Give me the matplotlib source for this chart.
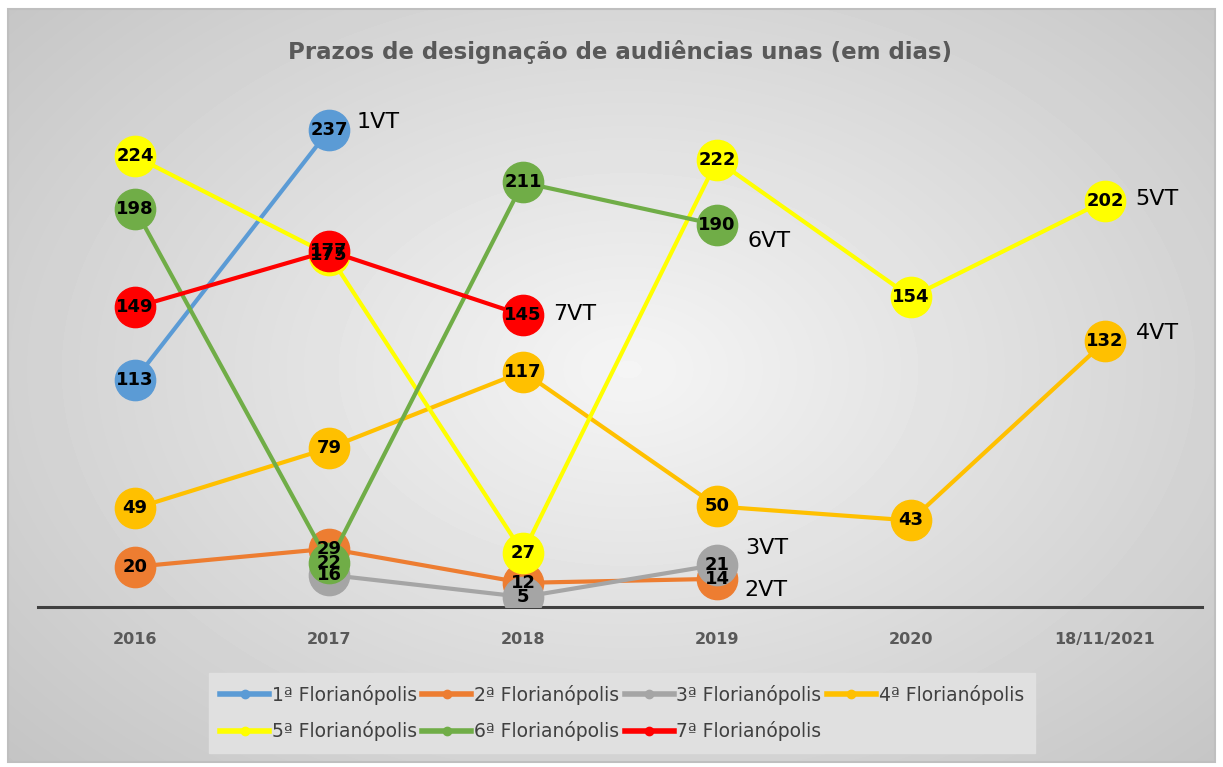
import numpy as np
import matplotlib.pyplot as plt
from matplotlib.patches import Rectangle
from matplotlib.lines import Line2D

nan = np.nan

# categories and series (days)
anos = ['2016', '2017', '2018', '2019', '2020', '18/11/2021']
series = ['1ª Florianópolis', '2ª Florianópolis', '3ª Florianópolis', '4ª Florianópolis',
          '5ª Florianópolis', '6ª Florianópolis', '7ª Florianópolis']
vt_1 = [113, 237, nan, nan, nan, nan]
vt_2 = [20, 29, 12, 14, nan, nan]
vt_3 = [nan, 16, 5, 21, nan, nan]
vt_4 = [49, 79, 117, 50, 43, 132]
vt_5 = [224, 175, 27, 222, 154, 202]
vt_6 = [198, 22, 211, 190, nan, nan]
vt_7 = [149, 177, 145, nan, nan, nan]
nomes_fim = ['1VT', '2VT', '3VT', '4VT', '5VT', '6VT', '7VT']

valores = [vt_1, vt_2, vt_3, vt_4, vt_5, vt_6, vt_7]
cores = ['#5B9BD5', '#ED7D31', '#A5A5A5', '#FFC000', '#FFFF00', '#70AD47', '#FF0000']
# offsets (points) for the end labels "xVT"
offs = [(20, 6), (20, -8), (20, 12), (22, 6), (22, 1), (22, -12), (22, 1)]

fig = plt.figure(figsize=(12.23, 7.67), dpi=100)

# background: radial-ish gradient inside a thin gray frame
bg = fig.add_axes([0, 0, 1, 1], zorder=-10)
bg.set_xlim(0, 1223)
bg.set_ylim(767, 0)
bg.axis('off')
yy, xx = np.mgrid[0:753, 0:1207]
r = np.sqrt(((xx - 620) / 620.0) ** 2 + ((yy - 360) / 420.0) ** 2)
g = np.clip(0.96 - 0.14 * r, 0, 1)
bg.imshow(g, cmap='gray', vmin=0, vmax=1, extent=(8, 1215, 762, 9), aspect='auto', interpolation='bilinear')
bg.add_patch(Rectangle((8, 9), 1207, 753, fill=False, ec='#bfbfbf', lw=1.5))

ax = fig.add_axes([38 / 1223, 160 / 767, 1164 / 1223, 507 / 767])
ax.patch.set_alpha(0)
x = np.arange(len(anos))

for i, (vals, cor) in enumerate(zip(valores, cores)):
    v = np.array(vals, dtype=float)
    ax.plot(x, v, color=cor, lw=3, marker='o', ms=29, mec=cor, mfc=cor,
            zorder=2 + i, label=series[i])
    for xi, vi in zip(x, v):
        if not np.isnan(vi):
            ax.text(xi, vi, '%d' % vi, ha='center', va='center', fontsize=13,
                    fontweight='bold', color='black', zorder=20)
    last = np.where(~np.isnan(v))[0][-1]
    ax.annotate(nomes_fim[i], (x[last], v[last]), xytext=offs[i], textcoords='offset points',
                ha='left', va='center', fontsize=16, color='black', zorder=20)

ax.set_xlim(-0.5, len(anos) - 0.5)
ax.set_ylim(0, 252)
ax.set_yticks([])
ax.set_xticks(x)
ax.set_xticklabels(anos, fontsize=11.5, fontweight='bold', color='#595959')
ax.tick_params(axis='x', length=0, pad=18)
for s in ['left', 'right', 'top']:
    ax.spines[s].set_visible(False)
ax.spines['bottom'].set_color('#404040')
ax.spines['bottom'].set_linewidth(2.2)

fig.text(620 / 1223, 1 - 52 / 767, 'Prazos de designação de audiências unas (em dias)',
         ha='center', va='center', fontsize=16.5, fontweight='bold', color='#595959')

# legend, row-wise order like Excel
h, l = ax.get_legend_handles_labels()
ordem = [0, 4, 1, 5, 2, 6, 3]
hh = [Line2D([], [], color=cores[k], lw=4, marker='o', ms=6) for k in ordem]
leg = fig.legend(hh, [l[k] for k in ordem], ncol=4, loc='center',
                 bbox_to_anchor=(622 / 1223, 54 / 767), bbox_transform=fig.transFigure,
                 frameon=True, fancybox=False, fontsize=13.5, handlelength=2.6,
                 handletextpad=0.15, columnspacing=0.3, labelspacing=0.9, borderpad=0.6)
leg.get_frame().set_facecolor('#e0e0e0')
leg.get_frame().set_edgecolor('#e0e0e0')
leg.get_frame().set_alpha(1)
for t in leg.get_texts():
    t.set_color('#404040')

fig.savefig('out.png', dpi=100)
